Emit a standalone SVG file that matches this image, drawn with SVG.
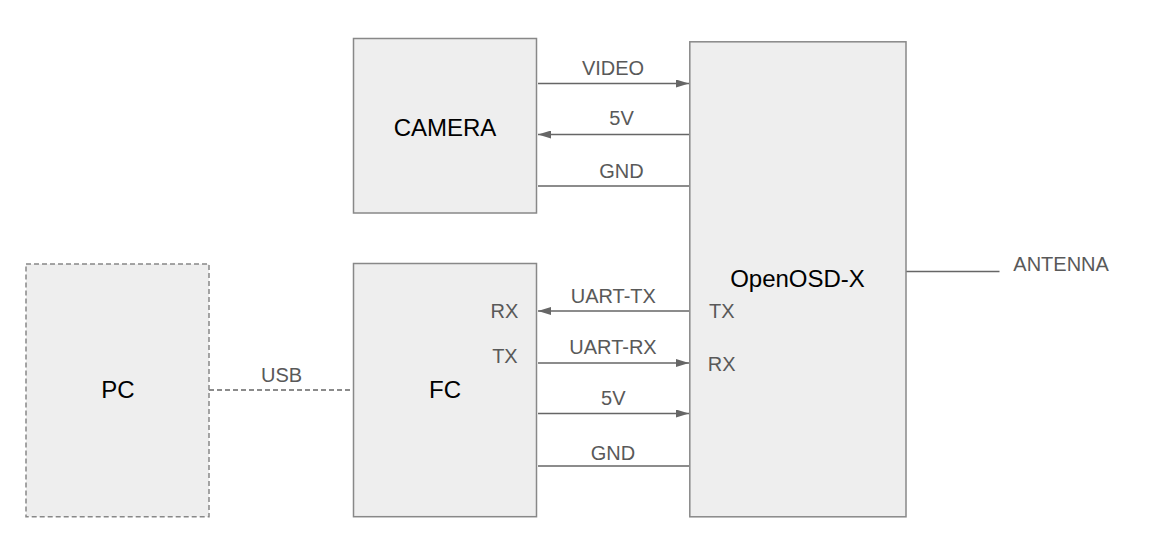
<svg xmlns="http://www.w3.org/2000/svg" width="1158" height="547" viewBox="0 0 1158 547">
<style>
.box{fill:#eeeeee;stroke:#888888;stroke-width:1.5}
.dash{stroke-dasharray:5 3}
.title{font-family:"Liberation Sans",Arial,sans-serif;font-size:24px;fill:#000000;text-anchor:middle}
.lbl{font-family:"Liberation Sans",Arial,sans-serif;font-size:20px;fill:#595959}
.mid{text-anchor:middle}
.end{text-anchor:end}
.wire{stroke:#666666;stroke-width:1.5;fill:none}
</style>
<defs>
<marker id="arr" viewBox="0 0 13 8" refX="13" refY="4" markerWidth="13" markerHeight="8" markerUnits="userSpaceOnUse" orient="auto">
<path d="M0,0 L13,4 L0,8 Z" fill="#666666"/>
</marker>
</defs>
<rect width="1158" height="547" fill="#ffffff"/>
<g id="connectors">
<line class="wire" x1="538" y1="83.5" x2="689" y2="83.5" marker-end="url(#arr)"/>
<line class="wire" x1="689" y1="134.5" x2="538" y2="134.5" marker-end="url(#arr)"/>
<line class="wire" x1="538" y1="186" x2="689" y2="186"/>
<line class="wire" x1="689" y1="311" x2="538" y2="311" marker-end="url(#arr)"/>
<line class="wire" x1="538" y1="363" x2="689" y2="363" marker-end="url(#arr)"/>
<line class="wire" x1="538" y1="413.5" x2="689" y2="413.5" marker-end="url(#arr)"/>
<line class="wire" x1="538" y1="466" x2="689" y2="466"/>
<line class="wire dash" x1="209" y1="390" x2="353.5" y2="390"/>
<line class="wire" x1="906" y1="271.5" x2="999.5" y2="271.5"/>
<text class="lbl mid" x="613" y="75">VIDEO</text>
<text class="lbl mid" x="621.5" y="125">5V</text>
<text class="lbl mid" x="621.5" y="177.5">GND</text>
<text class="lbl mid" x="613.3" y="303.3">UART-TX</text>
<text class="lbl mid" x="613" y="354">UART-RX</text>
<text class="lbl mid" x="613.3" y="405">5V</text>
<text class="lbl mid" x="613" y="460">GND</text>
<text class="lbl mid" x="281.5" y="381.7">USB</text>
<text class="lbl" x="1013.3" y="270.7">ANTENNA</text>
</g>
<g id="camera">
<rect class="box" x="353.5" y="38.5" width="183" height="174.5"/>
<text class="title" x="445" y="135.7">CAMERA</text>
</g>
<g id="osd">
<rect class="box" x="689.8" y="41.8" width="216.2" height="475"/>
<text class="title" x="797.5" y="287.3">OpenOSD-X</text>
<text class="lbl" x="709" y="318.3">TX</text>
<text class="lbl" x="707.7" y="370.7">RX</text>
</g>
<g id="fc">
<rect class="box" x="353.5" y="263.5" width="183" height="253.2"/>
<text class="title" x="445" y="398.3">FC</text>
<text class="lbl end" x="518.3" y="318.3">RX</text>
<text class="lbl end" x="517.7" y="363.3">TX</text>
</g>
<g id="pc">
<rect class="box dash" x="26" y="264" width="183" height="252.7"/>
<text class="title" x="117.8" y="398.3">PC</text>
</g>
</svg>
